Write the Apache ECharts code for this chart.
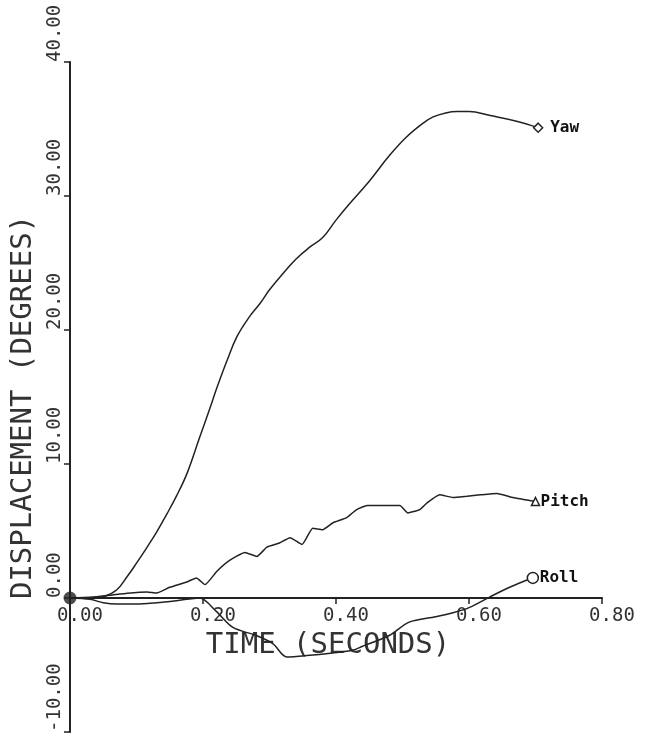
<!DOCTYPE html>
<html>
<head>
<meta charset="utf-8">
<script src="https://cdn.jsdelivr.net/npm/echarts@6/dist/echarts.min.js"></script>
<style>
  html, body { margin: 0; padding: 0; background: #fff; }
  #chart { width: 645px; height: 750px; }
</style>
</head>
<body>
<div id="chart"></div>
<script>
// time (s) and displacement (deg)
var yawTime = [0, 0.03, 0.05, 0.07, 0.086, 0.1, 0.116, 0.13, 0.146, 0.16, 0.176, 0.195, 0.21, 0.221, 0.236, 0.251, 0.27, 0.286, 0.3, 0.32, 0.34, 0.361, 0.38, 0.4, 0.42, 0.45, 0.48, 0.506, 0.53, 0.546, 0.565, 0.582, 0.6, 0.632, 0.67, 0.704];
var yawDeg  = [0, 0, 0.1, 0.6, 1.6, 2.6, 3.8, 4.9, 6.3, 7.6, 9.3, 12.0, 14.1, 15.7, 17.7, 19.5, 21.0, 22.0, 23.0, 24.2, 25.3, 26.2, 26.9, 28.2, 29.4, 31.1, 33.0, 34.4, 35.4, 35.9, 36.2, 36.3, 36.3, 36.0, 35.6, 35.1];

var pitchTime = [0, 0.03, 0.06, 0.086, 0.116, 0.13, 0.15, 0.176, 0.19, 0.203, 0.221, 0.24, 0.263, 0.281, 0.296, 0.315, 0.331, 0.349, 0.365, 0.38, 0.395, 0.416, 0.431, 0.447, 0.47, 0.496, 0.508, 0.526, 0.537, 0.556, 0.576, 0.597, 0.617, 0.642, 0.666, 0.70];
var pitchDeg  = [0, 0.05, 0.2, 0.35, 0.45, 0.37, 0.8, 1.2, 1.5, 1.0, 2.0, 2.8, 3.4, 3.1, 3.8, 4.1, 4.5, 4.0, 5.2, 5.1, 5.6, 6.0, 6.6, 6.9, 6.9, 6.9, 6.35, 6.6, 7.1, 7.7, 7.5, 7.6, 7.7, 7.8, 7.5, 7.2];

var rollTime = [0, 0.03, 0.05, 0.07, 0.1, 0.13, 0.16, 0.195, 0.22, 0.245, 0.28, 0.305, 0.326, 0.356, 0.395, 0.425, 0.44, 0.48, 0.51, 0.55, 0.576, 0.601, 0.631, 0.661, 0.69, 0.696];
var rollDeg  = [0, -0.1, -0.35, -0.45, -0.45, -0.35, -0.2, 0, -1.0, -2.2, -2.8, -3.4, -4.4, -4.3, -4.1, -3.9, -3.6, -2.8, -1.8, -1.4, -1.1, -0.7, 0.07, 0.8, 1.4, 1.5];

var xTicks = [0, 0.2, 0.4, 0.6, 0.8];
var yTicks = [-10, 0, 10, 20, 30, 40];

var ink = '#222';
var gridTop = 62, gridBottom = 18, chartHeight = 750;
var yMin = yTicks[0], yMax = yTicks[yTicks.length - 1];
// lift the time axis up to the zero line (labels follow it this way)
var zeroLift = (chartHeight - gridTop - gridBottom) * (0 - yMin) / (yMax - yMin);

function pairs(t, v, endSymbol, endSize) {
    return t.map(function (x, i) {
        if (i === t.length - 1) {
            return {
                value: [x, v[i]],
                symbol: endSymbol,
                symbolSize: endSize,
                itemStyle: { color: '#fff', borderColor: ink, borderWidth: 1.5 }
            };
        }
        return [x, v[i]];
    });
}

function curve(name, t, v, endSymbol, endSize, smooth, gap) {
    return {
        name: name,
        type: 'line',
        symbol: 'none',
        showSymbol: true,
        smooth: smooth,
        lineStyle: { color: ink, width: 1.5 },
        itemStyle: { color: ink },
        endLabel: {
            show: true,
            formatter: name,
            distance: gap,
            color: '#111',
            fontFamily: 'DejaVu Sans Mono',
            fontWeight: 'bold',
            fontSize: 16
        },
        data: pairs(t, v, endSymbol, endSize),
        z: 3
    };
}

var option = {
    animation: false,
    backgroundColor: '#fff',
    grid: { left: 70, right: 43, top: gridTop, bottom: gridBottom, containLabel: false, outerBoundsMode: 'none' },
    xAxis: {
        type: 'value',
        position: 'bottom',
        offset: -zeroLift,
        min: xTicks[0],
        max: xTicks[xTicks.length - 1],
        interval: 0.2,
        name: 'TIME (SECONDS)',
        nameLocation: 'middle',
        nameGap: 30,
        nameTextStyle: {
            fontFamily: 'DejaVu Sans Mono',
            fontSize: 29,
            color: '#333',
            padding: [0, 16, 0, 0]
        },
        axisLine: { onZero: false, lineStyle: { color: ink, width: 2 } },
        axisTick: { show: true, inside: false, length: 6, lineStyle: { color: ink, width: 1.5 } },
        axisLabel: {
            margin: 9,
            fontFamily: 'DejaVu Sans Mono',
            fontSize: 19,
            color: '#333',
            padding: [0, 0, 0, 20],
            formatter: function (v) { return v.toFixed(2); }
        },
        splitLine: { show: false }
    },
    yAxis: {
        type: 'value',
        min: yMin,
        max: yMax,
        interval: 10,
        name: 'DISPLACEMENT (DEGREES)',
        nameLocation: 'middle',
        nameRotate: 90,
        nameGap: 28,
        nameTextStyle: {
            fontFamily: 'DejaVu Sans Mono',
            fontSize: 29,
            color: '#333',
            padding: [0, 20, 0, 0]
        },
        axisLine: { show: true, onZero: false, lineStyle: { color: ink, width: 2 } },
        axisTick: { show: true, inside: false, length: 6, lineStyle: { color: ink, width: 1.5 } },
        axisLabel: {
            rotate: 90,
            align: 'left',
            verticalAlign: 'middle',
            margin: 15,
            fontFamily: 'DejaVu Sans Mono',
            fontSize: 19,
            color: '#333',
            formatter: function (v) { return v.toFixed(2); }
        },
        splitLine: { show: false }
    },
    series: [
        curve('Yaw', yawTime, yawDeg, 'diamond', 9, 0.4, 12),
        curve('Pitch', pitchTime, pitchDeg, 'triangle', 8, 0.15, 5),
        curve('Roll', rollTime, rollDeg, 'circle', 11, 0.3, 7),
        {
            type: 'scatter',
            data: [[yawTime[0], yawDeg[0]]],
            symbolSize: 13,
            itemStyle: { color: ink },
            z: 5
        }
    ]
};

var chart = echarts.init(document.getElementById('chart'));
chart.setOption(option);
</script>
</body>
</html>
